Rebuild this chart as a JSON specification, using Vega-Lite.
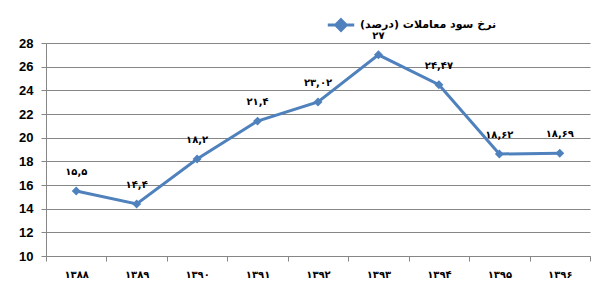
{
  "$schema": "https://vega.github.io/schema/vega-lite/v6.json",
  "width": 544,
  "height": 213,
  "autosize": {"type": "none"},
  "padding": {"left": 46, "top": 43, "right": 19, "bottom": 32},
  "background": "white",
  "config": {"view": {"stroke": null}},
  "data": {
    "values": [
      {"year": "۱۳۸۸", "value": 15.5, "label": "۱۵,۵", "series": "نرخ سود معاملات  (درصد)"},
      {"year": "۱۳۸۹", "value": 14.4, "label": "۱۴,۴", "series": "نرخ سود معاملات  (درصد)"},
      {"year": "۱۳۹۰", "value": 18.2, "label": "۱۸,۲", "series": "نرخ سود معاملات  (درصد)"},
      {"year": "۱۳۹۱", "value": 21.4, "label": "۲۱,۴", "series": "نرخ سود معاملات  (درصد)"},
      {"year": "۱۳۹۲", "value": 23.02, "label": "۲۳,۰۲", "series": "نرخ سود معاملات  (درصد)"},
      {"year": "۱۳۹۳", "value": 27, "label": "۲۷", "series": "نرخ سود معاملات  (درصد)"},
      {"year": "۱۳۹۴", "value": 24.47, "label": "۲۴,۴۷", "series": "نرخ سود معاملات  (درصد)"},
      {"year": "۱۳۹۵", "value": 18.62, "label": "۱۸,۶۲", "series": "نرخ سود معاملات  (درصد)"},
      {"year": "۱۳۹۶", "value": 18.69, "label": "۱۸,۶۹", "series": "نرخ سود معاملات  (درصد)"}
    ]
  },
  "encoding": {
    "x": {
      "field": "year", "type": "ordinal", "sort": null,
      "scale": {"paddingInner": 0, "paddingOuter": 0},
      "axis": {
        "title": null, "labelAngle": 0, "tickBand": "extent",
        "domainColor": "#868686", "tickColor": "#868686", "tickSize": 5,
        "labelFont": "DejaVu Sans", "labelFontSize": 10, "labelFontWeight": "bold",
        "labelColor": "black", "labelPadding": 8, "grid": false
      }
    },
    "y": {
      "field": "value", "type": "quantitative",
      "scale": {"domain": [10, 28], "nice": false, "zero": false},
      "axis": {
        "title": null, "values": [10, 12, 14, 16, 18, 20, 22, 24, 26, 28],
        "grid": true, "gridColor": "#868686", "gridWidth": 1,
        "domainColor": "#868686", "tickColor": "#868686", "tickSize": 5,
        "labelFont": "Liberation Sans", "labelFontSize": 13, "labelFontWeight": "bold",
        "labelColor": "black", "labelPadding": 8
      }
    }
  },
  "layer": [
    {
      "mark": {"type": "line", "strokeWidth": 3, "point": {"shape": "diamond", "size": 80, "filled": true, "opacity": 1}},
      "encoding": {
        "color": {
          "field": "series", "type": "nominal",
          "scale": {"range": ["#4F81BD"]},
          "legend": {
            "title": null, "orient": "none", "legendX": 280, "legendY": -33,
            "symbolType": "M-1,0L1,0M0,-0.4L0.4,0L0,0.4L-0.4,0Z",
            "symbolSize": 700, "symbolStrokeWidth": 3,
            "symbolFillColor": "#4F81BD", "symbolStrokeColor": "#4F81BD",
            "labelFont": "DejaVu Sans", "labelFontSize": 11, "labelFontWeight": "bold",
            "labelColor": "black", "labelLimit": 300
          }
        }
      }
    },
    {
      "mark": {"type": "text", "dy": -19, "font": "DejaVu Sans", "fontSize": 10, "fontWeight": "bold", "color": "black"},
      "encoding": {"text": {"field": "label"}}
    }
  ]
}
